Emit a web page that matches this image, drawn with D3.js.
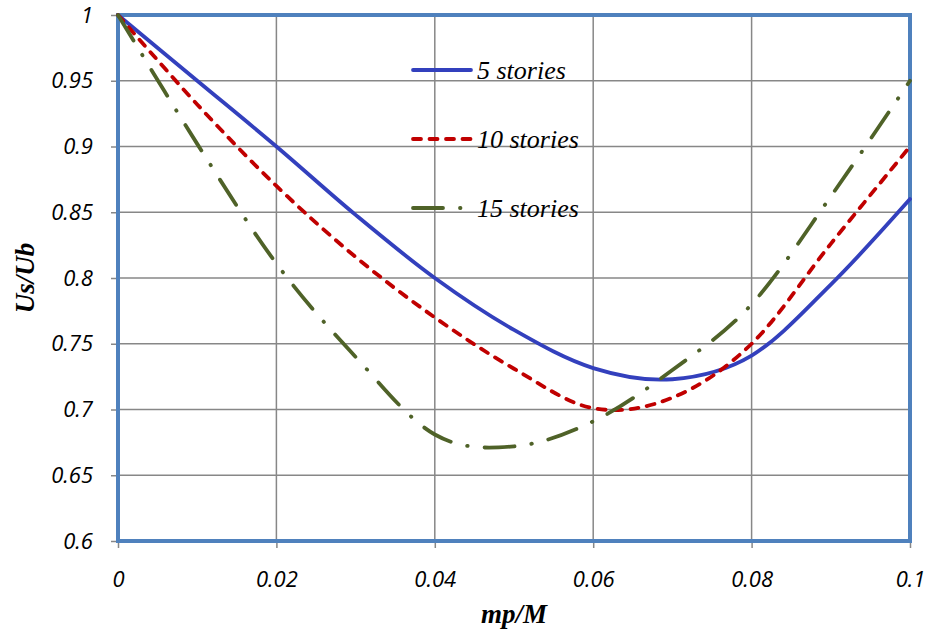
<!DOCTYPE html>
<html>
<head>
<meta charset="utf-8">
<script src="https://cdn.jsdelivr.net/npm/d3@7"></script>
<style>
  body { margin: 0; background: #fff; }
  .tick text { font-family: "Open Sans", "DejaVu Sans", sans-serif; font-style: italic; font-size: 22px; fill: #000; }
</style>
</head>
<body>
<div id="chart"></div>
<script>
// values
const xValues = [0, 0.01, 0.02, 0.03, 0.04, 0.05, 0.06, 0.07, 0.08, 0.09, 0.1];
const stories5 = [1, 0.95, 0.9, 0.848, 0.8, 0.7605, 0.7315, 0.723, 0.741, 0.795, 0.86];
const stories10 = [1, 0.932, 0.87, 0.816, 0.77, 0.731, 0.701, 0.709, 0.75, 0.826, 0.90];
const stories15 = [1, 0.902, 0.811, 0.74, 0.681, 0.672, 0.691, 0.73, 0.78, 0.862, 0.95];
const seriesNames = ["5 stories", "10 stories", "15 stories"];
const xTicks = [0, 0.02, 0.04, 0.06, 0.08, 0.1];
const yTicks = [0.6, 0.65, 0.7, 0.75, 0.8, 0.85, 0.9, 0.95, 1];

const width = 929, height = 633;
const margin = {left: 118, right: 19, top: 15, bottom: 92};

const svg = d3.select("#chart").append("svg")
    .attr("width", width)
    .attr("height", height);

const x = d3.scaleLinear().domain([0, 0.1]).range([margin.left, width - margin.right]);
const y = d3.scaleLinear().domain([0.6, 1]).range([height - margin.bottom, margin.top]);

// grid
svg.append("g")
    .selectAll("line")
    .data(xTicks)
    .join("line")
    .attr("x1", d => x(d)).attr("x2", d => x(d))
    .attr("y1", y(1)).attr("y2", y(0.6))
    .attr("stroke", "#878787").attr("stroke-width", 1.5);
svg.append("g")
    .selectAll("line")
    .data(yTicks)
    .join("line")
    .attr("x1", x(0)).attr("x2", x(0.1))
    .attr("y1", d => y(d)).attr("y2", d => y(d))
    .attr("stroke", "#878787").attr("stroke-width", 1.5);

// axes
const fmt = d => d3.format("")(+d.toFixed(2));
const xAxis = svg.append("g")
    .attr("transform", `translate(0,${y(0.6)})`)
    .call(d3.axisBottom(x).tickValues(xTicks).tickFormat(fmt).tickSize(7).tickSizeOuter(0).tickPadding(23));
const yAxis = svg.append("g")
    .attr("transform", `translate(${x(0)},0)`)
    .call(d3.axisLeft(y).tickValues(yTicks).tickFormat(fmt).tickSize(7).tickSizeOuter(0).tickPadding(18));
[xAxis, yAxis].forEach(a => {
    a.selectAll("line").attr("stroke", "#878787").attr("stroke-width", 1.5);
    a.select(".domain").attr("stroke", "#878787").attr("stroke-width", 1.5);
});

// plot border
svg.append("rect")
    .attr("x", x(0)).attr("y", y(1))
    .attr("width", x(0.1) - x(0)).attr("height", y(0.6) - y(1))
    .attr("fill", "none")
    .attr("stroke", "#4f81bd").attr("stroke-width", 4);

// series
const styles = [
    {data: stories5, color: "#3340bd", dash: null},
    {data: stories10, color: "#c00000", dash: "8,8.5"},
    {data: stories15, color: "#4f6228", dash: "30,17,0.5,17"}
];
// excel style smoothing
const line = d3.line()
    .x((d, i) => x(xValues[i]))
    .y(d => y(d))
    .curve(d3.curveCardinal.tension(0));

svg.append("g")
    .selectAll("path")
    .data(styles)
    .join("path")
    .attr("d", d => line(d.data))
    .attr("fill", "none")
    .attr("stroke", d => d.color)
    .attr("stroke-width", 3.8)
    .attr("stroke-linecap", "round")
    .attr("stroke-dasharray", d => d.dash);

// legend
const legend = svg.append("g")
    .selectAll("g")
    .data(styles)
    .join("g")
    .attr("transform", (d, i) => `translate(413,${70 + i * 69})`);
legend.append("line")
    .attr("x1", 0).attr("x2", 58)
    .attr("stroke", d => d.color)
    .attr("stroke-width", 3.8)
    .attr("stroke-linecap", "round")
    .attr("stroke-dasharray", d => d.dash);
legend.append("text")
    .attr("x", 64).attr("dy", "0.33em")
    .attr("font-family", "'Liberation Serif', 'Times New Roman', serif")
    .attr("font-style", "italic")
    .attr("font-size", 26)
    .text((d, i) => seriesNames[i]);

// axis titles
svg.append("text")
    .attr("x", (x(0) + x(0.1)) / 2).attr("y", 623)
    .attr("text-anchor", "middle")
    .attr("font-family", "'Liberation Serif', 'Times New Roman', serif")
    .attr("font-style", "italic").attr("font-weight", "bold")
    .attr("font-size", 27)
    .text("mp/M");
svg.append("text")
    .attr("transform", `translate(34,${(y(1) + y(0.6)) / 2}) rotate(-90)`)
    .attr("text-anchor", "middle")
    .attr("font-family", "'Liberation Serif', 'Times New Roman', serif")
    .attr("font-style", "italic").attr("font-weight", "bold")
    .attr("font-size", 27)
    .text("Us/Ub");
</script>
</body>
</html>
